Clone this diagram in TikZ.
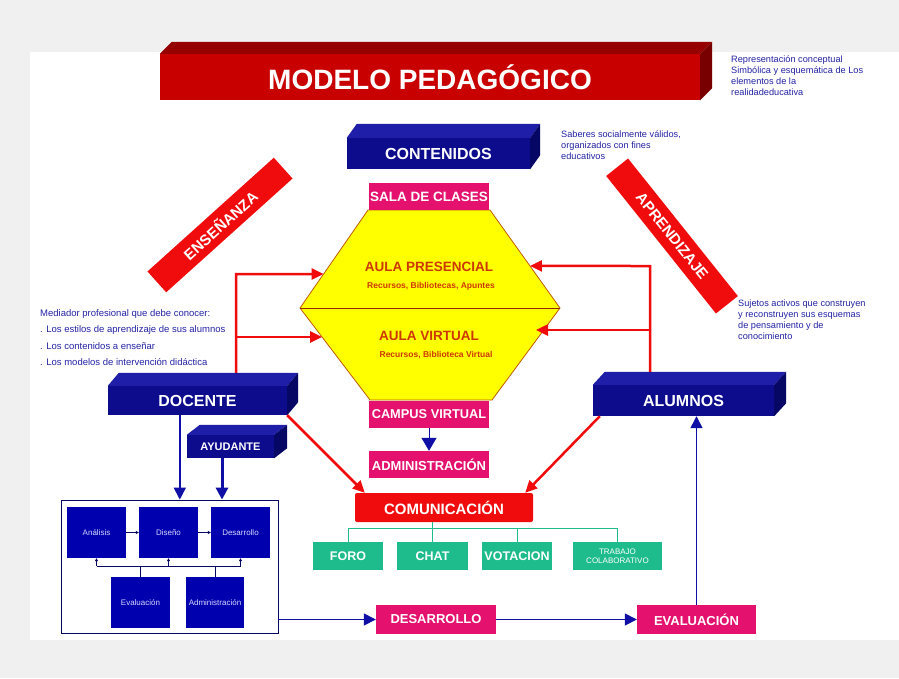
\documentclass[tikz,border=0pt]{standalone}
\usepackage{fontspec}
\setmainfont{Liberation Sans}
\usetikzlibrary{arrows.meta,calc}
\definecolor{navyF}{RGB}{12,12,140}
\definecolor{navyT}{RGB}{30,30,168}
\definecolor{navyS}{RGB}{6,6,100}
\definecolor{innerB}{RGB}{0,0,175}
\definecolor{pinkC}{RGB}{228,18,110}
\definecolor{redC}{RGB}{240,12,12}
\definecolor{titleF}{RGB}{200,0,0}
\definecolor{titleT}{RGB}{150,0,0}
\definecolor{titleS}{RGB}{120,0,0}
\definecolor{hexY}{RGB}{255,255,0}
\definecolor{hexE}{RGB}{190,90,0}
\definecolor{hexM}{RGB}{150,40,0}
\definecolor{aulaC}{RGB}{205,55,0}
\definecolor{tealC}{RGB}{30,188,140}
\definecolor{txtB}{RGB}{35,35,165}
\definecolor{arrB}{RGB}{15,15,165}
\definecolor{lavC}{RGB}{215,215,255}
\newcommand\cubefaces[5]{%
  \fill[#4] (#1.north west) -- ++(#2,#3) -- ($(#1.north east)+(#2,#3)$) -- (#1.north east) -- cycle;
  \fill[#5] (#1.north east) -- ++(#2,#3) -- ($(#1.south east)+(#2,#3)$) -- (#1.south east) -- cycle;}
\tikzset{
  cubebox/.style={fill=navyF, text=white, inner sep=0pt, font=\bfseries\fontsize{16}{18}\selectfont},
  pinkbox/.style={fill=pinkC, text=white, inner sep=0pt, minimum width=120, minimum height=27, font=\bfseries\fontsize{13}{15}\selectfont},
  tealbox/.style={fill=tealC, text=white, inner sep=0pt, minimum height=28, font=\bfseries\fontsize{12.5}{14}\selectfont},
  innerbox/.style={fill=innerB, text=lavC, inner sep=0pt, minimum width=59, minimum height=51, font=\fontsize{8}{9}\selectfont},
  band/.style={fill=redC, text=white, inner sep=0pt, minimum height=28, font=\bfseries\fontsize{15}{17}\selectfont},
  note/.style={text=txtB, inner sep=0pt, anchor=north west, align=left, font=\fontsize{9.2}{11}\selectfont},
  redarr/.style={draw=redC, line width=2.5pt, -{Triangle[length=12pt,width=11pt]}},
  bluearr/.style={draw=arrB, line width=1.5pt, -{Triangle[length=12pt,width=12pt]}},
  thinarr/.style={draw=navyS, line width=0.5pt, -{Triangle[length=3pt,width=3pt]}},
  thinline/.style={draw=navyS, line width=0.5pt},
  tealline/.style={draw=tealC, line width=1pt},
  aulatitle/.style={text=aulaC, inner sep=0pt, font=\bfseries\fontsize{13.5}{15}\selectfont},
  aulasub/.style={text=aulaC, inner sep=0pt, font=\bfseries\fontsize{8.5}{10}\selectfont}
}
\begin{document}
\begin{tikzpicture}[x=1pt,y=-1pt]
\useasboundingbox (0,0) rectangle (899,678);
\fill[gray!12] (0,0) rectangle (899,678);
\fill[white] (30,52) rectangle (899,640);

% notes
\node[note] (n1) at (731,56) {Representación conceptual\\Simbólica y esquemática de Los\\elementos de la\\realidadeducativa};
\node[note] (n2) at (561,131) {Saberes socialmente válidos,\\organizados con fines\\educativos};
\node[note, font=\fontsize{9.5}{16.5}\selectfont] (n3) at (40,309) {Mediador profesional que debe conocer:\\. Los estilos de aprendizaje de sus alumnos\\. Los contenidos a enseñar\\. Los modelos de intervención didáctica};
\node[note] (n4) at (738,300) {Sujetos activos que construyen\\y reconstruyen sus esquemas\\de pensamiento y de\\conocimiento};

% title
\node[fill=titleF, text=white, inner sep=0pt, minimum width=540, minimum height=46, font=\bfseries\fontsize{28}{30}\selectfont] (title) at (430,77) {MODELO PEDAGÓGICO};
\cubefaces{title}{12}{-12}{titleT}{titleS}

% bands
\node[band, rotate=42, minimum width=170] (ens) at (220,225) {ENSEÑANZA};
\node[band, rotate=-51.4, minimum width=176] (apr) at (672,236) {APRENDIZAJE};

% hexagon
\coordinate (h1) at (368,210);
\coordinate (h2) at (490,210);
\coordinate (h3) at (560,308);
\coordinate (h4) at (492,400);
\coordinate (h5) at (370,400);
\coordinate (h6) at (300,308);
\filldraw[fill=hexY, draw=hexE, line width=0.8pt] (h1) -- (h2) -- (h3) -- (h4) -- (h5) -- (h6) -- cycle;
\draw[hexM, line width=1pt] (h6) -- (h3);
\node[aulatitle] (ap) at (429,267) {AULA PRESENCIAL};
\node[aulasub] (aps) at (431,286) {Recursos, Bibliotecas, Apuntes};
\node[aulatitle] (av) at (429,336) {AULA VIRTUAL};
\node[aulasub] (avs) at (436,355) {Recursos, Biblioteca Virtual};

% 3D blue boxes
\node[cubebox, minimum width=183, minimum height=31] (cont) at (438.5,153.5) {CONTENIDOS};
\cubefaces{cont}{10}{-14}{navyT}{navyS}
\node[cubebox, minimum width=179, minimum height=29] (doc) at (197.5,400.5) {DOCENTE};
\cubefaces{doc}{11}{-13}{navyT}{navyS}
\node[cubebox, minimum width=87, minimum height=23, font=\bfseries\fontsize{11}{13}\selectfont] (ayu) at (230.5,446.5) {AYUDANTE};
\cubefaces{ayu}{13}{-10}{navyT}{navyS}
\node[cubebox, minimum width=181, minimum height=31] (alu) at (683.5,400.5) {ALUMNOS};
\cubefaces{alu}{12}{-13}{navyT}{navyS}

% pink boxes
\node[pinkbox, font=\bfseries\fontsize{13.5}{15}\selectfont] (sala) at (429,196.5) {SALA DE CLASES};
\node[pinkbox, font=\bfseries\fontsize{12.8}{15}\selectfont] (camp) at (429,414.5) {CAMPUS VIRTUAL};
\node[pinkbox] (adm) at (429,464.5) {ADMINISTRACIÓN};
\node[pinkbox, minimum height=29] (desa) at (436,619.5) {DESARROLLO};
\node[pinkbox, minimum width=119, minimum height=29] (eva) at (696.5,619.5) {EVALUACIÓN};

% comunicacion
\node[fill=redC, text=white, rounded corners=2pt, minimum width=178, minimum height=29, inner sep=0pt, font=\bfseries\fontsize{15}{17}\selectfont] (com) at (444,507.5) {COMUNICACIÓN};
\node[tealbox, minimum width=70] (foro) at (348,556) {FORO};
\node[tealbox, minimum width=71] (chat) at (432.5,556) {CHAT};
\node[tealbox, minimum width=70] (vot) at (517,556) {VOTACION};
\node[tealbox, minimum width=89, align=center, font=\fontsize{8}{9.5}\selectfont] (trab) at (617.5,556) {TRABAJO\\COLABORATIVO};
\coordinate (bus) at (0,528);
\draw[tealline] (com.south -| chat.north) -- (chat.north);
\draw[tealline] (foro.north) -- (foro.north |- bus) -- (trab.north |- bus) -- (trab.north);
\draw[tealline] (vot.north) -- (vot.north |- bus);

% big box with process
\node[draw=navyS, line width=0.8pt, fill=white, minimum width=217, minimum height=133, inner sep=0pt] (big) at (169.5,566.5) {};
\node[innerbox] (iana) at (96.5,532.5) {Análisis};
\node[innerbox] (idis) at (168.5,532.5) {Diseño};
\node[innerbox] (ides) at (240.5,532.5) {Desarrollo};
\node[innerbox] (ieva) at (140.5,602.5) {Evaluación};
\node[innerbox, minimum width=58] (iadm) at (215,602.5) {Administración};
\coordinate (fb) at (0,566);
\draw[thinarr] (iana.east) -- (idis.west);
\draw[thinarr] (idis.east) -- (ides.west);
\draw[thinline] (iana.south |- fb) -- (ides.south |- fb);
\draw[thinarr] (iana.south |- fb) -- (iana.south);
\draw[thinarr] (idis.south |- fb) -- (idis.south);
\draw[thinarr] (ides.south |- fb) -- (ides.south);
\draw[thinline] (ieva.north) -- (ieva.north |- fb);
\draw[thinline] (iadm.north) -- (iadm.north |- fb);

% blue arrows
\coordinate (dA) at ($(doc.south west)+(72,0)$);
\coordinate (aA) at ($(ayu.south)+(-8.5,0)$);
\draw[bluearr] (dA) -- (dA |- big.north);
\draw[bluearr, line width=3pt] (aA) -- (aA |- big.north);
\draw[bluearr, line width=1pt, -{Triangle[length=13pt,width=15pt]}] (camp.south) -- (adm.north);
\draw[bluearr] (desa.west -| big.east) -- (desa.west);
\draw[bluearr] (desa.east) -- (eva.west);
\draw[bluearr] (eva.north) -- (eva.north |- alu.south);

% red connectors
\coordinate (tPL) at ($(h1)!0.653!(h6)$);
\coordinate (tVL) at ($(h6)!0.315!(h5)$);
\coordinate (tPR) at ($(h2)!0.571!(h3)$);
\coordinate (tVR) at (536,330);
\coordinate (jL) at (236,274);
\coordinate (jR) at (650,266);
\coordinate (dtop) at ($(doc.north)+(0,-13)$);
\coordinate (atop) at ($(alu.north)+(0,-13)$);
\draw[redarr] (jL |- dtop) -- (jL) -- (tPL);
\draw[redarr] (jL |- tVL) -- (tVL);
\draw[redarr] (jR |- atop) -- (jR) -- (tPR);
\draw[redarr] (jR |- tVR) -- (tVR);
\draw[redarr] (doc.south east) -- ($(com.north west)+(10,0)$);
\draw[redarr] ($(alu.south west)+(7,0)$) -- ($(com.north east)+(-8,0)$);
\end{tikzpicture}
\end{document}
